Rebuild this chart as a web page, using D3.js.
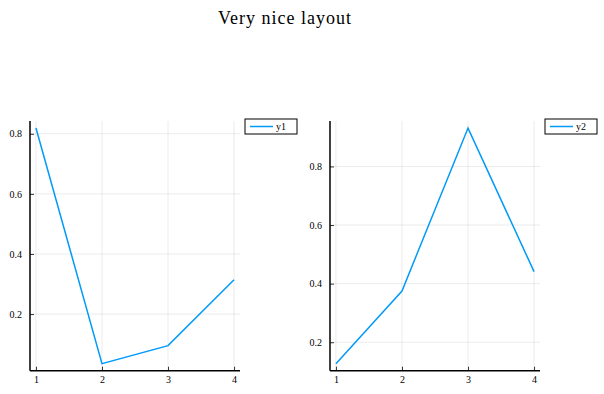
<html>
<head>
<script src="https://d3js.org/d3.v7.min.js"></script>
<style>
body { margin: 0; background: #fff; }
text { font-family: "Liberation Serif", "DejaVu Serif", serif; fill: #000; }
</style>
</head>
<body>
<svg width="604" height="394"></svg>
<script>
var xs = [1, 2, 3, 4];
var y1 = [0.819, 0.035, 0.095, 0.314];
var y2 = [0.127, 0.375, 0.931, 0.441];
var xticks = [1, 2, 3, 4];
var yticks = [0.2, 0.4, 0.6, 0.8];
var names = ["y1", "y2"];

var svg = d3.select("svg");
var color = "#009af9";

svg.append("text")
  .attr("x", 285).attr("y", 24)
  .attr("text-anchor", "middle")
  .style("font-size", "18px")
  .style("letter-spacing", "1px")
  .text("Very nice layout");

function panel(left, ys, name) {
  var top = 121, bottom = 370.7, right = left + 210;
  var pad = (d3.max(ys) - d3.min(ys)) * 0.03;
  var x = d3.scaleLinear().domain([0.91, 4.09]).range([left, right]);
  var y = d3.scaleLinear().domain([d3.min(ys) - pad, d3.max(ys) + pad]).range([bottom, top]);
  var g = svg.append("g");

  // grid
  g.selectAll(".gx").data(xticks).enter().append("line")
    .attr("x1", d => x(d)).attr("x2", d => x(d))
    .attr("y1", top).attr("y2", bottom)
    .attr("stroke", "#000").attr("stroke-opacity", 0.1).attr("stroke-width", 0.8);
  g.selectAll(".gy").data(yticks).enter().append("line")
    .attr("x1", left).attr("x2", right)
    .attr("y1", d => y(d)).attr("y2", d => y(d))
    .attr("stroke", "#000").attr("stroke-opacity", 0.1).attr("stroke-width", 0.8);

  // axes
  var ax = g.append("g").attr("transform", "translate(0," + bottom + ")")
    .call(d3.axisBottom(x).tickValues(xticks).tickSize(-4).tickPadding(5).tickFormat(d3.format("d")));
  var ay = g.append("g").attr("transform", "translate(" + left + ",0)")
    .call(d3.axisLeft(y).tickValues(yticks).tickSize(-4).tickPadding(8).tickFormat(d3.format(".1f")));
  [ax, ay].forEach(function(a) {
    a.select(".domain").attr("stroke", "#000").attr("stroke-width", 1.5);
    a.selectAll(".tick line").attr("stroke", "#000").attr("stroke-width", 0.8);
    a.selectAll("text").style("font-family", "'Liberation Serif', serif").style("font-size", "10px");
  });
  ax.select(".domain").attr("d", "M" + left + ",0H" + right);
  ay.select(".domain").attr("d", "M0," + bottom + "V" + top);

  g.append("path")
    .datum(xs.map((d, i) => [d, ys[i]]))
    .attr("fill", "none").attr("stroke", color).attr("stroke-width", 1.5)
    .attr("d", d3.line().x(d => x(d[0])).y(d => y(d[1])));

  // legend
  var lx = right + 5;
  g.append("rect").attr("x", lx).attr("y", 119).attr("width", 52).attr("height", 15)
    .attr("fill", "#fff").attr("stroke", "#000").attr("stroke-width", 1);
  g.append("line").attr("x1", lx + 5).attr("x2", lx + 28).attr("y1", 126.5).attr("y2", 126.5)
    .attr("stroke", color).attr("stroke-width", 1.5);
  g.append("text").attr("x", lx + 31).attr("y", 130).style("font-size", "10px").text(name);
}

panel(30, y1, names[0]);
panel(330, y2, names[1]);
</script>
</body>
</html>
